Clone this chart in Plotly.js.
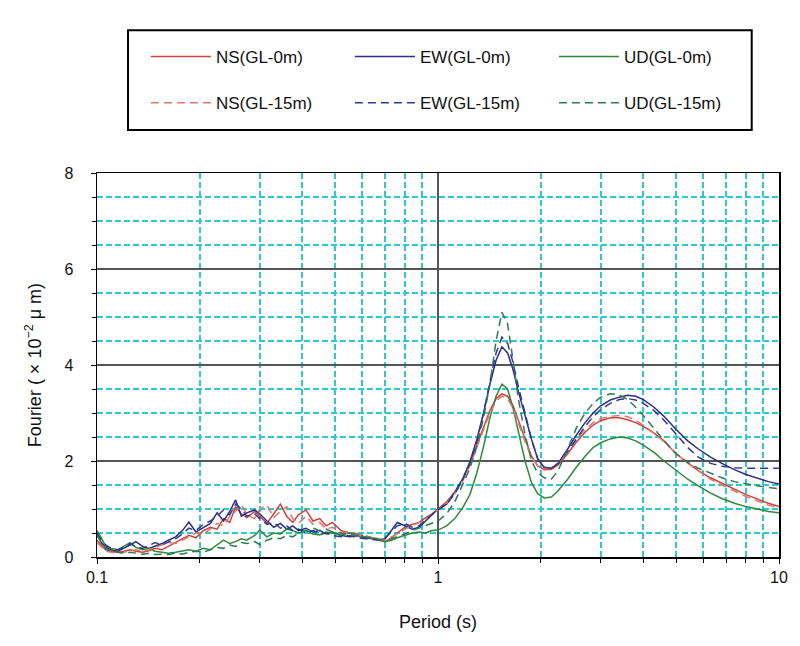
<!DOCTYPE html>
<html>
<head>
<meta charset="utf-8">
<script src="https://cdn.plot.ly/plotly-3.0.1.min.js"></script>
<style>
  body { margin: 0; background: #fff; }
  #chart { width: 800px; height: 646px; }
</style>
</head>
<body>
<div id="chart"></div>
<script>
// Period (s), log spaced
var period = [0.100,0.103,0.106,0.110,0.115,0.120,0.125,0.130,0.136,0.142,
  0.148,0.155,0.162,0.170,0.178,0.186,0.195,0.205,0.215,0.225,
  0.235,0.245,0.255,0.265,0.275,0.290,0.300,0.315,0.330,0.345,
  0.360,0.375,0.390,0.410,0.430,0.450,0.470,0.490,0.520,0.550,
  0.580,0.610,0.640,0.670,0.700,0.730,0.760,0.800,0.840,0.880,
  0.920,0.960,1.00,1.06,1.12,1.18,1.24,1.30,1.36,1.42,
  1.48,1.54,1.60,1.66,1.72,1.80,1.88,1.96,2.05,2.15,
  2.25,2.40,2.55,2.70,2.85,3.00,3.20,3.40,3.60,3.80,
  4.00,4.30,4.60,5.00,5.40,5.80,6.30,6.80,7.40,8.00,
  8.70,9.30,10.0];

// Fourier amplitude (x10^-2 um)
var nsGL0 = [0.35,0.25,0.15,0.12,0.10,0.12,0.15,0.12,0.10,0.13,
  0.18,0.15,0.22,0.30,0.38,0.45,0.40,0.55,0.62,0.58,
  0.80,0.72,1.05,0.90,0.82,0.95,0.85,0.70,0.90,1.10,
  0.85,0.72,0.88,0.98,0.75,0.80,0.65,0.72,0.55,0.50,
  0.48,0.42,0.40,0.35,0.32,0.40,0.50,0.62,0.68,0.72,
  0.82,0.90,1.00,1.15,1.35,1.60,1.95,2.35,2.70,3.05,
  3.30,3.40,3.35,3.15,2.85,2.45,2.10,1.90,1.82,1.83,
  1.92,2.15,2.40,2.60,2.75,2.84,2.90,2.90,2.86,2.80,
  2.72,2.58,2.42,2.14,1.96,1.80,1.65,1.54,1.42,1.30,
  1.20,1.12,1.05];
var ewGL0 = [0.45,0.30,0.20,0.15,0.12,0.18,0.25,0.32,0.22,0.18,
  0.22,0.28,0.35,0.42,0.55,0.73,0.52,0.62,0.70,0.92,
  0.75,0.95,1.19,0.85,0.92,0.98,0.90,0.75,0.62,0.70,
  0.58,0.65,0.55,0.60,0.52,0.55,0.48,0.52,0.45,0.42,
  0.44,0.40,0.38,0.36,0.38,0.55,0.72,0.65,0.58,0.62,
  0.75,0.88,1.00,1.10,1.35,1.62,1.98,2.45,3.00,3.60,
  4.10,4.38,4.25,3.90,3.45,2.95,2.45,2.05,1.86,1.85,
  1.95,2.25,2.55,2.80,3.00,3.15,3.27,3.33,3.37,3.35,
  3.28,3.12,2.93,2.65,2.42,2.25,2.08,1.95,1.82,1.72,
  1.63,1.57,1.52];
var udGL0 = [0.55,0.40,0.22,0.18,0.15,0.22,0.30,0.20,0.15,0.18,
  0.12,0.10,0.08,0.10,0.12,0.15,0.12,0.18,0.15,0.25,
  0.35,0.28,0.32,0.38,0.35,0.45,0.56,0.42,0.50,0.48,
  0.58,0.55,0.50,0.55,0.48,0.46,0.52,0.50,0.46,0.50,
  0.44,0.42,0.40,0.38,0.32,0.35,0.40,0.45,0.50,0.52,
  0.50,0.55,0.56,0.65,0.80,1.02,1.30,1.75,2.30,2.90,
  3.35,3.60,3.50,3.10,2.60,2.00,1.55,1.32,1.23,1.25,
  1.38,1.62,1.88,2.10,2.28,2.38,2.46,2.50,2.48,2.42,
  2.33,2.18,2.00,1.80,1.62,1.48,1.33,1.22,1.12,1.05,
  0.99,0.95,0.92];
var nsGL15 = [0.30,0.20,0.12,0.10,0.08,0.10,0.12,0.15,0.12,0.15,
  0.20,0.25,0.30,0.28,0.35,0.42,0.50,0.48,0.58,0.70,
  0.65,0.85,0.95,1.10,0.88,0.80,1.00,1.08,0.82,0.95,
  1.05,0.80,0.70,0.85,0.68,0.72,0.58,0.62,0.52,0.48,
  0.45,0.45,0.40,0.38,0.35,0.42,0.48,0.58,0.65,0.72,
  0.80,0.88,0.98,1.12,1.32,1.58,1.90,2.30,2.65,3.00,
  3.25,3.35,3.30,3.10,2.80,2.40,2.08,1.90,1.84,1.86,
  1.95,2.18,2.45,2.65,2.80,2.88,2.93,2.95,2.92,2.85,
  2.75,2.58,2.40,2.15,1.95,1.80,1.62,1.50,1.38,1.26,
  1.16,1.08,1.02];
var ewGL15 = [0.50,0.35,0.25,0.18,0.15,0.20,0.28,0.22,0.18,0.25,
  0.30,0.25,0.32,0.38,0.48,0.60,0.55,0.68,0.75,0.85,
  0.98,0.88,1.10,1.00,0.85,0.90,0.80,0.68,0.72,0.60,
  0.65,0.55,0.58,0.50,0.55,0.48,0.50,0.45,0.42,0.45,
  0.40,0.38,0.36,0.35,0.40,0.52,0.65,0.70,0.62,0.65,
  0.78,0.88,0.98,1.10,1.32,1.60,1.95,2.40,3.00,3.65,
  4.25,4.58,4.45,4.05,3.55,3.00,2.45,2.05,1.87,1.85,
  1.95,2.20,2.48,2.72,2.92,3.07,3.20,3.28,3.30,3.27,
  3.20,3.05,2.85,2.55,2.28,2.08,1.95,1.89,1.86,1.85,
  1.85,1.85,1.85];
var udGL15 = [0.45,0.30,0.18,0.12,0.10,0.08,0.10,0.08,0.06,0.08,
  0.05,0.06,0.05,0.08,0.06,0.10,0.12,0.10,0.15,0.20,
  0.18,0.25,0.22,0.30,0.28,0.32,0.26,0.35,0.40,0.38,
  0.45,0.42,0.50,0.55,0.60,0.55,0.58,0.52,0.50,0.48,
  0.45,0.42,0.40,0.36,0.35,0.38,0.42,0.48,0.55,0.60,
  0.65,0.70,0.75,0.90,1.15,1.50,1.85,2.30,2.90,3.60,
  4.50,5.10,4.85,4.10,3.30,2.55,2.00,1.75,1.65,1.62,
  1.80,2.25,2.70,3.00,3.20,3.33,3.40,3.38,3.28,3.12,
  2.95,2.68,2.42,2.15,1.97,1.85,1.74,1.65,1.57,1.52,
  1.48,1.45,1.42];

var names = ["NS(GL-0m)", "EW(GL-0m)", "UD(GL-0m)", "NS(GL-15m)", "EW(GL-15m)", "UD(GL-15m)"];
var series = [nsGL0, ewGL0, udGL0, nsGL15, ewGL15, udGL15];
var colors = ["#d0403c", "#2b2f86", "#2f8a3c", "#dc7a6a", "#2e3a8c", "#2f7a5a"];

// minor x grid: 2..9 multiples inside each decade
var xMinorVals = [0.2,0.3,0.4,0.5,0.6,0.7,0.8,0.9,2,3,4,5,6,7,8,9];

var data = series.map(function (vals, i) {
  return {
    x: period,
    y: vals,
    name: names[i],
    type: "scatter",
    mode: "lines",
    legend: i < 3 ? "legend" : "legend2",
    line: { color: colors[i], width: 1.5, dash: i < 3 ? "solid" : "8px,5px" }
  };
});

var fnt = "Liberation Sans, Arial, sans-serif";
var gridCyan = "#30c8d0";
var legendBase = {
  orientation: "h",
  xanchor: "left",
  yanchor: "middle",
  x: 0.0717,
  bgcolor: "rgba(0,0,0,0)",
  font: { family: fnt, size: 17, color: "#111" },
  entrywidth: 129,
  itemwidth: 60
};

var layout = {
  width: 800,
  height: 646,
  margin: { l: 97, r: 21, t: 173, b: 89 },
  paper_bgcolor: "#fff",
  plot_bgcolor: "#fff",
  font: { family: fnt, color: "#111" },
  showlegend: true,
  legend: Object.assign({}, legendBase, { y: 1.302 }),
  legend2: Object.assign({}, legendBase, { y: 1.182 }),
  xaxis: {
    type: "log",
    range: [-1, 1],
    dtick: 1,
    ticks: "outside",
    ticklen: 5,
    tickcolor: "#000",
    tickfont: { family: fnt, size: 16 },
    showline: true,
    linecolor: "#000",
    linewidth: 1.5,
    mirror: true,
    showgrid: true,
    gridcolor: "#555",
    gridwidth: 1.5,
    zeroline: false,
    minor: { tickmode: "array", tickvals: xMinorVals, ticks: "outside", ticklen: 4, tickcolor: "#000",
      showgrid: true, gridcolor: gridCyan, griddash: "6px,3px", gridwidth: 2 },
    title: { text: "Period (s)", font: { family: fnt, size: 18 }, standoff: 30 }
  },
  yaxis: {
    range: [0, 8],
    dtick: 2,
    ticks: "outside",
    ticklen: 5,
    tickcolor: "#000",
    tickfont: { family: fnt, size: 16 },
    ticklabelstandoff: 14,
    showline: true,
    linecolor: "#000",
    linewidth: 1.5,
    mirror: true,
    showgrid: true,
    gridcolor: "#555",
    gridwidth: 1.5,
    zeroline: false,
    minor: { dtick: 0.5, ticks: "outside", ticklen: 4, tickcolor: "#000",
      showgrid: true, gridcolor: gridCyan, griddash: "6px,3px", gridwidth: 2 },
    title: { text: "Fourier ( × 10<sup>−2</sup> μ m)", font: { family: fnt, size: 18 }, standoff: 18 }
  },
  shapes: [
    // legend frame
    { type: "rect", xref: "paper", yref: "paper", x0: 0.0455, x1: 0.960, y0: 1.112, y1: 1.372,
      line: { color: "#000", width: 2 }, fillcolor: "rgba(0,0,0,0)", layer: "above" }
  ]
};

Plotly.newPlot("chart", data, layout, { staticPlot: true });
</script>
</body>
</html>
